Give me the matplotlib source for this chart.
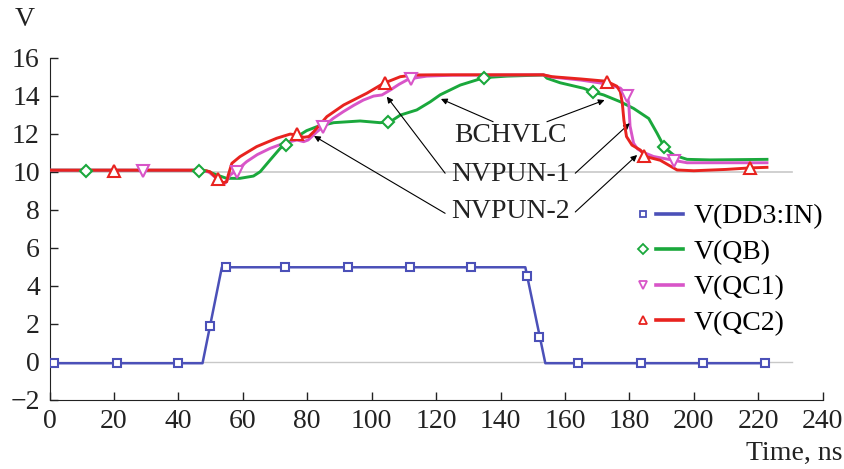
import matplotlib
matplotlib.use("Agg")
import matplotlib.pyplot as plt
from matplotlib.lines import Line2D
from matplotlib.legend_handler import HandlerTuple

plt.rcParams['font.family'] = ['Liberation Serif', 'DejaVu Serif']

# V(DD3:IN)
t_in = [0, 47.5, 53.5, 147.7, 153.9, 222.0]
v_in = [-0.08, -0.08, 4.97, 4.97, -0.08, -0.08]
tm_in = [1.5, 20.9, 39.8, 49.9, 54.8, 73.2, 92.6, 112.0, 130.9, 148.2, 152.0, 164.2, 183.7, 203.0, 222.0]
vm_in = [-0.08, -0.08, -0.08, 1.86, 4.97, 4.97, 4.97, 4.97, 4.97, 4.51, 1.32, -0.08, -0.08, -0.08, -0.08]

# V(QB)
t_qb = [0, 47, 48.8, 51.9, 55.0, 59.1, 63.3, 65.4, 68.5, 71.6, 73.7, 76.8, 79.8, 83.0, 88.2,
        96.4, 102.6, 105.8, 108.9, 114.0, 118.2, 121.3, 127.5, 134.9, 142, 153.4, 154.4, 158.5,
        165.8, 168.4, 172, 177.2, 181.3, 186, 188.6, 190.9, 193.7, 197.9, 205.1, 222.7]
v_qb = [10.08, 10.07, 10.04, 9.83, 9.65, 9.65, 9.77, 10.0, 10.62, 11.23, 11.49, 11.84, 12.16, 12.37, 12.58,
        12.67, 12.58, 12.63, 12.98, 13.25, 13.68, 14.05, 14.56, 14.95, 15.03, 15.09, 14.92, 14.68,
        14.39, 14.21, 14.04, 13.68, 13.33, 12.8, 12.02, 11.28, 10.88, 10.65, 10.62, 10.65]
tm_qb = [11.3, 46.4, 73.4, 105.2, 134.9, 168.6, 190.8]
vm_qb = [10.06, 10.05, 11.4, 12.63, 14.95, 14.21, 11.28]

# V(QC1)
t_qc1 = [0, 46.5, 49.5, 51.5, 53.0, 54.5, 56.1, 58.2, 61.2, 64.5, 68.5, 72, 74.7, 76.8, 78.9, 80.3,
         83.0, 85.0, 88, 91.2, 94.5, 97.4, 100.6, 103.2, 105.8, 108.5, 111.0, 114, 117.1, 125,
         153.2, 156, 165, 172.9, 177.2, 179.3, 179.8, 180.2, 181.3, 182.5, 183.9, 187.5, 193.7,
         197.9, 222.7]
v_qc1 = [10.08, 10.08, 9.98, 9.7, 9.42, 9.39, 9.83, 10.09, 10.53, 10.9, 11.23, 11.45, 11.58, 11.67,
         11.58, 11.67, 12.1, 12.37, 12.8, 13.16, 13.5, 13.77, 13.98, 14.04, 14.3, 14.6, 14.83, 14.95,
         15.03, 15.08, 15.1, 14.98, 14.82, 14.62, 14.4, 14.0, 13.6, 12.4, 11.5, 11.2, 11.05, 10.8,
         10.6, 10.47, 10.47]
tm_qc1 = [28.9, 58.1, 85.0, 112.2, 179.3, 193.9]
vm_qc1 = [10.06, 10.0, 12.37, 14.86, 13.98, 10.56]

# V(QC2)
t_qc2 = [0, 46.3, 48.5, 49.8, 51.9, 53.9, 55.0, 55.5, 56.6, 59.1, 64.3, 70.5, 74.7, 76.8, 78.9,
         80.5, 82.0, 86.1, 91.3, 98.5, 103.7, 108.9, 113.0, 120, 153.2, 156, 165, 172.9, 176.1,
         177.2, 177.8, 178.3, 179.1, 180.8, 183.4, 185.0, 189.6, 194.8, 200.0, 210, 217.5, 222.7]
v_qc2 = [10.08, 10.08, 10.05, 10.0, 9.65, 9.42, 9.47, 9.83, 10.44, 10.79, 11.32, 11.76, 11.98, 11.93,
         11.81, 11.85, 12.1, 12.9, 13.51, 14.13, 14.65, 15.0, 15.09, 15.1, 15.1, 15.0, 14.88, 14.76,
         14.5, 14.2, 13.6, 12.7, 11.85, 11.4, 11.14, 10.8, 10.6, 10.09, 10.05, 10.12, 10.2, 10.23]
tm_qc2 = [20.1, 52.4, 76.8, 104.0, 173.0, 184.6, 217.5]
vm_qc2 = [10.06, 9.6, 11.98, 14.65, 14.72, 10.8, 10.2]

labels = ['V(DD3:IN)', 'V(QB)', 'V(QC1)', 'V(QC2)']
x_ticks = list(range(0, 241, 20))
y_ticks = list(range(-2, 17, 2))

c_in = '#4b50b8'
c_qb = '#1aa83c'
c_qc1 = '#d855c8'
c_qc2 = '#e8231f'
fs = 20

fig = plt.figure(figsize=(8.44, 4.69), dpi=100)
ax = fig.add_axes([49.5 / 844, 69.3 / 469, 773.2 / 844, 342.0 / 469])

# grey reference lines
ax.plot([0, 230.5], [10, 10], color='#c8c8c8', lw=1.2, zorder=1)
ax.plot([0, 230.5], [0, 0], color='#c8c8c8', lw=1.0, zorder=1)

mk = dict(ls='none', mfc='white', mew=1.5, zorder=5)
ax.plot(t_in, v_in, color=c_in, lw=1.8, zorder=3)
ax.plot(tm_in, vm_in, marker='s', ms=6, mec=c_in, **mk)
ax.plot(t_qb, v_qb, color=c_qb, lw=2.1, zorder=3)
ax.plot(tm_qb, vm_qb, marker='D', ms=6, mec=c_qb, **mk)
ax.plot(t_qc1, v_qc1, color=c_qc1, lw=2.1, zorder=3)
ax.plot(tm_qc1, vm_qc1, marker='v', ms=8, mec=c_qc1, **mk)
ax.plot(t_qc2, v_qc2, color=c_qc2, lw=2.1, zorder=4)
ax.plot(tm_qc2, vm_qc2, marker='^', ms=8, mec=c_qc2, **mk)

ax.set_xlim(0, 240)
ax.set_ylim(-2, 16)
ax.set_xticks(x_ticks)
ax.set_yticks(y_ticks)
ax.spines['top'].set_visible(False)
ax.spines['right'].set_visible(False)
ax.spines['left'].set_color('#222222')
ax.spines['bottom'].set_color('#222222')
ax.tick_params(direction='in', length=6, width=1.0, color='#222222', labelsize=fs, labelcolor='#222222')
ax.tick_params(axis='x', pad=7)
ax.tick_params(axis='y', pad=7)

fig.text(25 / 844, 1 - 20 / 469, 'V', ha='center', va='center', fontsize=fs, color='#222222')
fig.text(842 / 844, 1 - 453 / 469, 'Time, ns', ha='right', va='center', fontsize=fs, color='#222222')

# annotations
arw = dict(arrowstyle='-|>', lw=0.8, color='black', mutation_scale=9, shrinkA=0, shrinkB=0)
ax.text(143, 11.88, 'BCHVLC', ha='center', va='center', fontsize=fs, color='#222222')
ax.annotate('', xy=(121.5, 13.83), xytext=(137.7, 12.63), arrowprops=arw)
ax.annotate('', xy=(172.3, 13.77), xytext=(154.4, 12.63), arrowprops=arw)
ax.text(143, 9.87, 'NVPUN-1', ha='center', va='center', fontsize=fs, color='#222222')
ax.annotate('', xy=(104.7, 13.95), xytext=(122.8, 9.92), arrowprops=arw)
ax.annotate('', xy=(180.1, 12.55), xytext=(163.2, 9.92), arrowprops=arw)
ax.text(143, 7.93, 'NVPUN-2', ha='center', va='center', fontsize=fs, color='#222222')
ax.annotate('', xy=(82.1, 11.88), xytext=(122.8, 7.81), arrowprops=arw)
ax.annotate('', xy=(182.4, 10.88), xytext=(163.2, 7.88), arrowprops=arw)

# legend: small marker followed by a short line
handles = []
for c, m, s in [(c_in, 's', 5), (c_qb, 'D', 5), (c_qc1, 'v', 6), (c_qc2, '^', 6)]:
    h_m = Line2D([], [], ls='none', marker=m, ms=s, mfc='white', mec=c, mew=1.3)
    h_l = Line2D([], [], color=c, lw=2.6)
    handles.append((h_m, h_l))
ax.legend(handles, labels, handler_map={tuple: HandlerTuple(ndivide=None, pad=0.0)},
          loc='upper left', bbox_to_anchor=(630 / 844, 1 - 204 / 469), bbox_transform=fig.transFigure,
          frameon=False, fontsize=fs, handlelength=1.9, handletextpad=0.4, labelspacing=0.36,
          borderpad=0, borderaxespad=0)

fig.savefig('out.png', dpi=100)
